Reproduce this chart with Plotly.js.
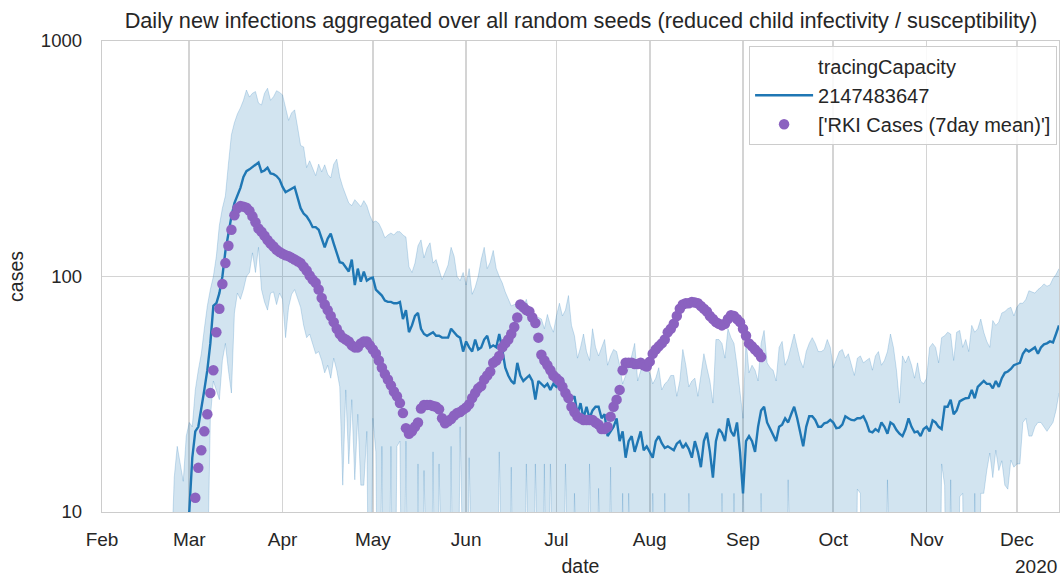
<!DOCTYPE html>
<html>
<head>
<meta charset="utf-8">
<script src="https://cdn.plot.ly/plotly-3.0.1.min.js"></script>
<style>
  html, body { margin: 0; padding: 0; background: #ffffff; }
  #chart { width: 1061px; height: 577px; }
</style>
</head>
<body>
<div id="chart"></div>
<script>
// ---------- data ----------
const simStart = '2020-02-23';   // first day of the simulated series (daily)
const rkiStart = '2020-03-03';   // first day of the RKI 7-day mean (daily)

// median of daily new infections, tracingCapacity = 2147483647
const simMedian = [
  2, 2, 3, 4, 5, 6, 8,
  10, 17, 22, 23, 27, 33, 40, 52, 75, 77,
  85, 100, 128, 155, 180, 205, 220, 238, 265, 280,
  285, 292, 298, 305, 278, 282, 290, 274, 272, 267,
  258, 240, 228, 233, 236, 240, 215, 195, 185, 180,
  172, 162, 162, 158, 145, 133, 145, 152, 138, 125,
  115, 114, 110, 105, 118, 92, 108, 95, 105, 96,
  98, 99, 88, 85, 83, 79, 78, 78, 77, 77,
  78, 66, 72, 58, 62, 68, 70, 60, 57, 56,
  57, 58, 56, 56, 55, 55, 55, 60, 58, 56,
  55, 48, 53, 50, 48, 54, 49, 50, 54, 56,
  50, 51, 50, 57, 49, 41, 38, 36, 35, 43,
  38, 36, 37, 38, 36, 30, 36, 35, 34, 35,
  33, 35, 34, 35, 37, 32, 32, 30, 31, 26,
  29, 25, 28, 25, 27, 28, 28, 25, 26, 21,
  22, 23, 25, 20, 22, 17, 20, 21, 18, 20,
  22, 18.3, 19, 18, 17, 20, 21, 19.6, 18.7, 19,
  18.7, 18.3, 19.5, 20, 18.7, 19.5, 18.5, 17, 20, 18,
  15.5, 20, 21.7, 18, 14, 20, 22.5, 21.7, 20, 25,
  22, 21, 24, 18, 12, 20, 21, 20, 18, 23,
  27, 28, 24, 22.5, 21, 20, 23, 23.5, 25, 24,
  26, 28, 25, 22, 19, 23, 25.5, 25.5, 24.6, 23,
  23, 23.8, 24, 24.6, 24, 22.7, 22.8, 23.5, 25.5, 25,
  24.6, 24.5, 25, 25, 25.5, 24, 22, 21.8, 22.5, 22,
  24, 23, 21.5, 24, 23.5, 22.3, 21.5, 21, 22.5, 25,
  23, 21.8, 22, 21, 22.5, 23, 22, 24.5, 24, 23,
  22.5, 28, 28, 30, 26, 27, 29.5, 30, 30.4, 30.5,
  33, 30.4, 34, 35, 36, 35, 35, 33.5, 36, 34,
  37, 39, 39.5, 40.5, 42, 42.5, 43, 47, 49, 48,
  49, 50, 47, 50, 51.5, 52, 53, 52.5, 57, 62
];

// upper edge of the band over all random seeds
const simUpper = [
  4, 6, 14, 19, 16, 13.5, 21,
  24, 23, 33, 40, 47, 60, 75, 88, 100, 122,
  165, 195, 220, 300, 400, 450, 490, 520, 560, 619,
  578, 600, 610, 545, 535, 600, 630, 560, 580, 615,
  605, 590, 520, 460, 495, 510, 430, 360, 355, 290,
  310, 290, 268, 300, 278, 298, 272, 262, 300, 315,
  265, 240, 220, 205, 200, 212, 205, 198, 210, 200,
  182, 170, 172, 168, 158, 146, 150, 153, 150, 155,
  155, 150, 147, 110, 104, 114, 135, 143, 120, 132,
  139, 114, 118, 108, 97, 104, 112, 133, 122, 100,
  96, 104, 92, 108, 84, 90, 100, 118, 133, 108,
  115, 129, 108, 100, 94, 86, 80, 75, 76, 77,
  75, 74, 80, 70, 64, 66, 67, 66, 60, 69,
  62, 58, 68, 77, 68, 72, 83, 62, 56, 45,
  50, 57, 48, 44, 60, 50, 46, 50, 54, 42,
  46, 49, 48, 42, 35, 38, 41, 46, 52, 36,
  40, 44, 40, 39, 35, 37, 41, 33, 35, 36,
  38, 38, 31, 36, 49, 42, 34, 36, 37, 31,
  38, 47, 41, 36, 29, 54, 54, 52, 45, 60,
  55, 52, 42, 33, 25, 54, 39, 42, 40, 36,
  52, 59, 43, 41, 40, 36, 50, 53, 42, 45,
  50, 57, 50, 44, 41, 48, 52, 55, 52, 48,
  48, 49, 54, 50, 41, 44, 48, 49, 45, 47,
  42, 38, 45, 46, 43, 44, 45, 40, 46, 48,
  42, 44, 48, 57, 50, 40, 29, 46, 43, 46,
  42, 37, 43, 36, 35, 37, 50, 52, 50, 43,
  55, 56, 58, 57, 44, 58, 59, 50, 54, 48,
  62, 58, 60, 66, 58, 53, 50, 65, 62, 64,
  70, 71, 73, 74, 68, 74, 77, 77, 80, 87,
  86, 85, 88, 90, 93, 91, 92, 98, 102, 108
];

// lower edge of the band (1 = far below the visible axis)
const simLower = [
  1, 1, 1, 1, 1, 1, 1,
  1, 1, 1, 1, 1, 1, 5, 25, 36, 33,
  30, 44, 52, 40, 32, 70, 85, 80, 88, 100,
  104, 126, 104, 133, 88, 78, 72, 85, 86, 76,
  85, 80, 55, 74, 84, 88, 80, 74, 62, 55,
  57, 52, 47, 48, 44, 39, 42, 37, 45, 40,
  34, 13, 33, 16, 30, 13.7, 26, 13, 13, 22,
  1, 25, 18, 1, 19, 1, 1, 19, 1, 19,
  20, 1, 20, 1, 1, 1, 16, 1, 15, 1,
  1, 18, 1, 16, 1, 1, 1, 19, 1, 1,
  23, 1, 1, 17, 1, 1, 1, 1, 1, 1,
  1, 1, 1, 18, 1, 1, 1, 15.5, 1, 1,
  1, 1, 16, 1, 1, 16, 1, 1, 16, 1,
  16, 1, 1, 1, 1, 16, 1, 1, 12, 1,
  1, 1, 1, 16, 1, 1, 12.6, 1, 1, 1,
  15.5, 1, 1, 1, 12, 1, 12, 1, 1, 1,
  1, 1, 1, 1, 12, 1, 1, 1, 12, 1,
  1, 1, 1, 1, 1, 1, 12, 1, 1, 1,
  1, 1, 1, 1, 1, 1, 1, 12, 1, 1,
  1, 12, 1, 1, 14, 1, 1, 1, 1, 1,
  12, 1, 1, 1, 1, 1, 1, 1, 1, 13.7,
  1, 1, 1, 1, 1, 1, 1, 1, 1, 1,
  1, 1, 1, 1, 1, 1, 1, 1, 1, 1,
  1, 1, 12.5, 12, 1, 1, 1, 1, 1, 1,
  1, 1, 13.7, 1, 1, 1, 1, 1, 1, 1,
  1, 1, 1, 1, 1, 1, 1, 1, 1, 1,
  16, 13, 1, 13.7, 1, 1, 11.6, 12, 1, 1,
  1, 12, 1, 12, 12, 15, 17.8, 14, 18.3, 15,
  16.5, 13, 12.5, 16.6, 15.5, 16, 16, 24, 25, 21,
  21, 23, 24, 24, 23, 22, 23, 24, 27, 32
];

// RKI cases, 7-day mean
const rkiCases = [
  11.5, 15.4, 18.3, 22, 26, 32, 40, 58, 73, 93,
  114, 135, 158, 182, 195, 199, 198, 196, 190, 180,
  170, 160, 155, 149, 143, 138, 134, 130, 127, 125,
  123, 122, 120, 118, 116, 114, 110, 106, 101, 97,
  94, 88, 81, 76, 72, 68, 64, 60, 57, 55,
  54, 53, 51, 50, 50, 52, 53, 53, 51, 49,
  47, 44, 41, 38.5, 36.5, 34.5, 32.5, 31, 29, 26.3,
  22.7, 21.5, 22, 23, 24, 27.5, 28.5, 28.5, 28.5, 28.2,
  28, 27.3, 25, 23.8, 24.3, 24.8, 25.7, 26.3, 26.6, 27.2,
  27.8, 28.7, 30.5, 32, 33.5, 34.3, 36.5, 38, 39.5, 43,
  44, 46, 50, 52, 54, 57, 61, 67, 76, 74,
  72, 71, 67, 63.5, 55, 46.5, 44, 42, 40, 38,
  37, 36, 34, 32, 30.5, 28, 26.5, 25.4, 25, 24.6,
  24.6, 24.6, 24.6, 24, 23.5, 22.5, 22.5, 23, 25.4, 28,
  30, 33, 40, 43, 43, 43, 42.5, 42.5, 43, 42,
  41.5, 43.5, 47, 49, 50.5, 52, 54, 58, 60, 63,
  68, 73, 76, 77, 77, 78, 77.5, 77, 75, 73,
  71, 68, 66, 64, 63, 62, 63, 66, 68.5, 68,
  66, 64, 60, 56, 52, 50.5, 49, 47.5, 45.5
];

const monthTicks  = ['2020-02-01','2020-03-01','2020-04-01','2020-05-01','2020-06-01','2020-07-01',
                     '2020-08-01','2020-09-01','2020-10-01','2020-11-01','2020-12-01'];
const monthLabels = ['Feb','Mar','Apr','May','Jun','Jul','Aug','Sep','Oct','Nov','Dec'];
const yTicks      = [10, 100, 1000];
const yTickLabels = ['10', '100', '1000'];

const titleText  = 'Daily new infections aggregated over all random seeds (reduced child infectivity / susceptibility)';
const legendHead = 'tracingCapacity';
const simName    = '2147483647';
const rkiName    = "['RKI Cases (7day mean)']";

// ---------- helpers ----------
function dailyDates(start, n) {
  const t0 = Date.parse(start + 'T00:00:00Z');
  const out = [];
  for (let i = 0; i < n; i++) out.push(new Date(t0 + i * 86400000).toISOString().slice(0, 10));
  return out;
}
const simDates = dailyDates(simStart, simMedian.length);
const rkiDates = dailyDates(rkiStart, rkiCases.length);

const FONT = 'Liberation Sans, Arial, Helvetica, sans-serif';
const TXT = '#262626';
const BLUE = '#1f77b4';
const BAND_FILL = 'rgba(31,119,180,0.2)';
const BAND_EDGE = 'rgba(31,119,180,0.22)';
const PURPLE = '#8b62c0';

const traces = [
  { x: simDates, y: simLower, type: 'scatter', mode: 'lines',
    line: { color: BAND_EDGE, width: 1 }, showlegend: false, hoverinfo: 'skip' },
  { x: simDates, y: simUpper, type: 'scatter', mode: 'lines', fill: 'tonexty',
    fillcolor: BAND_FILL, line: { color: BAND_EDGE, width: 1 }, showlegend: false, hoverinfo: 'skip' },
  { x: [null], y: [null], type: 'scatter', mode: 'lines', name: legendHead,
    line: { color: 'rgba(0,0,0,0)', width: 0 }, showlegend: true },
  { x: simDates, y: simMedian, type: 'scatter', mode: 'lines', name: simName,
    line: { color: BLUE, width: 2.4 } },
  { x: rkiDates, y: rkiCases, type: 'scatter', mode: 'markers', name: rkiName,
    marker: { color: PURPLE, size: 10.5, line: { width: 0 } } }
];

const layout = {
  width: 1061, height: 577,
  paper_bgcolor: '#ffffff', plot_bgcolor: '#ffffff',
  margin: { l: 102, r: 2, t: 41, b: 65, pad: 0 },
  font: { family: FONT, size: 18, color: TXT },
  title: { text: titleText, x: 0.5475, xanchor: 'center', y: 0.965, yanchor: 'middle',
           font: { family: FONT, size: 21.7, color: TXT } },
  xaxis: {
    type: 'date', range: ['2020-02-01', '2020-12-15'],
    tickmode: 'array', tickvals: monthTicks, ticktext: monthLabels,
    showgrid: true, gridcolor: '#d4d4d4', gridwidth: 1.6,
    showline: true, linecolor: '#cccccc', linewidth: 1.3, mirror: true,
    ticks: '', ticklabelstandoff: 10, zeroline: false,
    tickfont: { family: FONT, size: 19, color: TXT },
    title: { text: 'date', standoff: 12, font: { family: FONT, size: 19.5, color: TXT } }
  },
  yaxis: {
    type: 'log', range: [1, 3],
    tickmode: 'array', tickvals: yTicks, ticktext: yTickLabels,
    showgrid: true, gridcolor: '#d4d4d4', gridwidth: 1.6,
    showline: true, linecolor: '#cccccc', linewidth: 1.3, mirror: true,
    ticks: '', ticklabelstandoff: 15, zeroline: false,
    tickfont: { family: FONT, size: 18.5, color: TXT },
    title: { text: 'cases', standoff: 12, font: { family: FONT, size: 19.5, color: TXT } }
  },
  legend: {
    x: 0.998, xanchor: 'right', y: 0.99, yanchor: 'top',
    traceorder: 'normal',
    bgcolor: 'rgba(255,255,255,0.85)', bordercolor: '#cccccc', borderwidth: 1,
    font: { family: FONT, size: 20, color: TXT },
    tracegroupgap: 0, itemwidth: 58
  },
  annotations: [
    { text: '2020', xref: 'paper', yref: 'paper', x: 1, y: -0.115, xanchor: 'right', yanchor: 'middle',
      showarrow: false, font: { family: FONT, size: 19, color: TXT } }
  ],
  showlegend: true
};

Plotly.newPlot('chart', traces, layout, { displayModeBar: false, staticPlot: true });
</script>
</body>
</html>
